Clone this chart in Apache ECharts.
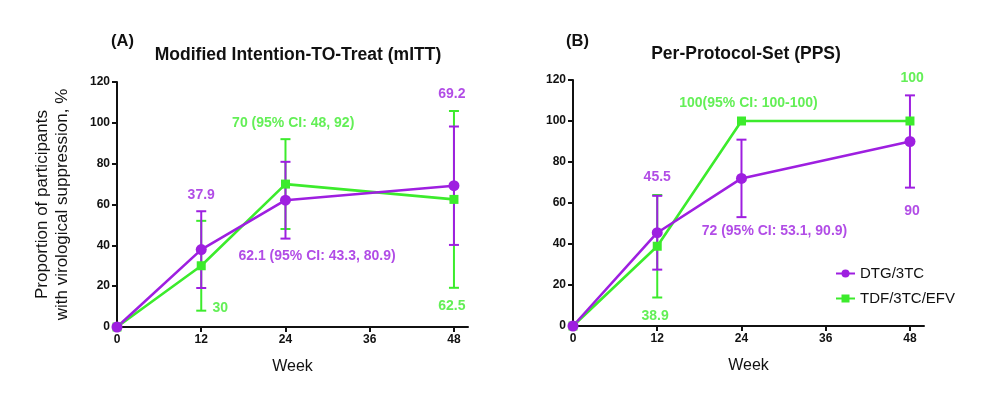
<!DOCTYPE html>
<html>
<head>
<meta charset="utf-8">
<script src="https://cdn.jsdelivr.net/npm/echarts@6/dist/echarts.min.js"></script>
<style>
html,body{margin:0;padding:0;background:#fff;}
#chart{width:981px;height:403px;}
</style>
</head>
<body>
<div id="chart"></div>
<script>
// ---- data ----
var weeks = [0, 12, 24, 48];
var weekTicks = [0, 12, 24, 36, 48];
var seriesNames = ['DTG/3TC', 'TDF/3TC/EFV'];

// Panel A: Modified Intention-TO-Treat (mITT)
var mittDTG = [0, 37.9, 62.1, 69.2];
var mittDTGLow = [null, 19.1, 43.3, 40.2];
var mittDTGHigh = [null, 56.7, 80.9, 98.2];
var mittTDF = [0, 30, 70, 62.5];
var mittTDFLow = [null, 8, 48, 19.2];
var mittTDFHigh = [null, 52, 92, 105.8];

// Panel B: Per-Protocol-Set (PPS)
var ppsDTG = [0, 45.5, 72, 90];
var ppsDTGLow = [null, 27.5, 53.1, 67.5];
var ppsDTGHigh = [null, 63.5, 90.9, 112.5];
var ppsTDF = [0, 38.9, 100, 100];
var ppsTDFLow = [null, 13.9, null, null];
var ppsTDFHigh = [null, 63.9, null, null];

// annotation texts
var mittDTGTexts = ['37.9', '62.1 (95% CI: 43.3, 80.9)', '69.2'];
var mittTDFTexts = ['30', '70 (95% CI: 48, 92)', '62.5'];
var ppsDTGTexts = ['45.5', '72 (95% CI: 53.1, 90.9)', '90'];
var ppsTDFTexts = ['38.9', '100(95% CI: 100-100)', '100'];

// annotation anchor points (axis units), kept apart from the data
var mittDTGAnchors = [[12, 64.8], [28.5, 34.8], [47.7, 114]];
var mittTDFAnchors = [[14.7, 9.2], [25.1, 99.7], [47.7, 10.2]];
var ppsDTGAnchors = [[12, 72.8], [28.7, 46.3], [48.3, 56.1]];
var ppsTDFAnchors = [[11.7, 5.0], [25, 108.8], [48.3, 121.1]];

// ---- style ----
var PURPLE = '#9E1FE0';
var GREEN = '#3CEB2C';
var FONT = '"Liberation Sans", Arial, Helvetica, sans-serif';

function pairs(xs, ys) { return xs.map(function (x, i) { return [x, ys[i]]; }); }
function bars(xs, lo, hi) {
  var out = [];
  xs.forEach(function (x, i) { if (lo[i] != null && hi[i] != null) out.push([x, lo[i], hi[i]]); });
  return out;
}
function errSeries(idx, data, color) {
  return {
    type: 'custom', xAxisIndex: idx, yAxisIndex: idx, silent: true, clip: false, z: 2,
    data: data, encode: { x: 0, y: [1, 2] },
    renderItem: function (params, api) {
      var x = api.value(0);
      var lo = api.coord([x, api.value(1)]);
      var hi = api.coord([x, api.value(2)]);
      var w = 5;
      var st = { stroke: color, lineWidth: 2 };
      return { type: 'group', children: [
        { type: 'line', shape: { x1: lo[0], y1: lo[1], x2: hi[0], y2: hi[1] }, style: st },
        { type: 'line', shape: { x1: lo[0] - w, y1: lo[1], x2: lo[0] + w, y2: lo[1] }, style: st },
        { type: 'line', shape: { x1: hi[0] - w, y1: hi[1], x2: hi[0] + w, y2: hi[1] }, style: st }
      ]};
    }
  };
}
function lineSeries(idx, name, data, color, symbol, size) {
  return {
    type: 'line', name: name, xAxisIndex: idx, yAxisIndex: idx, data: data,
    symbol: symbol, symbolSize: size, showSymbol: true, z: 3,
    lineStyle: { color: color, width: 2.6 }, itemStyle: { color: color }
  };
}
function annSeries(idx, anchors, texts, color) {
  return {
    type: 'scatter', xAxisIndex: idx, yAxisIndex: idx, symbolSize: 0, silent: true, clip: false, z: 5,
    data: anchors.map(function (a, i) { return { value: a, name: texts[i] }; }),
    label: { show: true, position: 'inside', formatter: '{b}', color: color,
             fontFamily: FONT, fontWeight: 'bold', fontSize: 14 }
  };
}
function xAx(idx) {
  return {
    type: 'value', gridIndex: idx, min: 0, max: 50, interval: 12,
    name: 'Week', nameLocation: 'middle', nameGap: 32,
    nameTextStyle: { fontFamily: FONT, fontSize: 16, color: '#111' },
    axisLine: { lineStyle: { color: '#111', width: 2 } },
    axisTick: { show: true, length: 5, lineStyle: { color: '#111', width: 2 }, customValues: weekTicks },
    axisLabel: { fontFamily: FONT, fontWeight: 'bold', fontSize: 12, color: '#111', margin: 7, customValues: weekTicks },
    splitLine: { show: false }
  };
}
function yAx(idx, withName) {
  return {
    type: 'value', gridIndex: idx, min: 0, max: 120, interval: 20,
    name: withName ? 'Proportion of participants\nwith virological suppression, %' : '',
    nameLocation: 'middle', nameGap: 45, nameRotate: 90,
    nameTextStyle: { fontFamily: FONT, fontSize: 17, color: '#111', lineHeight: 20 },
    axisLine: { show: true, lineStyle: { color: '#111', width: 2 } },
    axisTick: { show: true, length: 5, lineStyle: { color: '#111', width: 2 } },
    axisLabel: { fontFamily: FONT, fontWeight: 'bold', fontSize: 12, color: '#111', margin: 7 },
    splitLine: { show: false }
  };
}

var chart = echarts.init(document.getElementById('chart'), null, { renderer: 'canvas' });
chart.setOption({
  backgroundColor: '#fff',
  animation: false,
  title: [
    { text: '(A)', left: 106, top: 28, textStyle: { fontFamily: FONT, fontWeight: 'bold', fontSize: 16.5, color: '#111' } },
    { text: 'Modified Intention-TO-Treat (mITT)', left: 293, top: 41, textAlign: 'center',
      textStyle: { fontFamily: FONT, fontWeight: 'bold', fontSize: 17.5, color: '#111' } },
    { text: '(B)', left: 561, top: 28, textStyle: { fontFamily: FONT, fontWeight: 'bold', fontSize: 16.5, color: '#111' } },
    { text: 'Per-Protocol-Set (PPS)', left: 741, top: 40, textAlign: 'center',
      textStyle: { fontFamily: FONT, fontWeight: 'bold', fontSize: 17.5, color: '#111' } }
  ],
  legend: {
    left: 830, top: 261, orient: 'vertical', itemGap: 10, itemWidth: 19, itemHeight: 10,
    data: seriesNames,
    textStyle: { fontFamily: FONT, fontSize: 15, color: '#111', padding: [0, 0, 0, 0] }
  },
  grid: [
    { left: 117, top: 82, width: 351, height: 245, containLabel: false },
    { left: 573, top: 80, width: 351, height: 246, containLabel: false }
  ],
  xAxis: [xAx(0), xAx(1)],
  yAxis: [yAx(0, true), yAx(1, false)],
  series: [
    errSeries(0, bars(weeks, mittTDFLow, mittTDFHigh), GREEN),
    errSeries(0, bars(weeks, mittDTGLow, mittDTGHigh), PURPLE),
    lineSeries(0, seriesNames[1], pairs(weeks, mittTDF), GREEN, 'rect', 9),
    lineSeries(0, seriesNames[0], pairs(weeks, mittDTG), PURPLE, 'circle', 11),
    errSeries(1, bars(weeks, ppsTDFLow, ppsTDFHigh), GREEN),
    errSeries(1, bars(weeks, ppsDTGLow, ppsDTGHigh), PURPLE),
    lineSeries(1, seriesNames[1], pairs(weeks, ppsTDF), GREEN, 'rect', 9),
    lineSeries(1, seriesNames[0], pairs(weeks, ppsDTG), PURPLE, 'circle', 11),
    annSeries(0, mittDTGAnchors, mittDTGTexts, PURPLE),
    annSeries(0, mittTDFAnchors, mittTDFTexts, GREEN),
    annSeries(1, ppsDTGAnchors, ppsDTGTexts, PURPLE),
    annSeries(1, ppsTDFAnchors, ppsTDFTexts, GREEN)
  ]
});
</script>
</body>
</html>
